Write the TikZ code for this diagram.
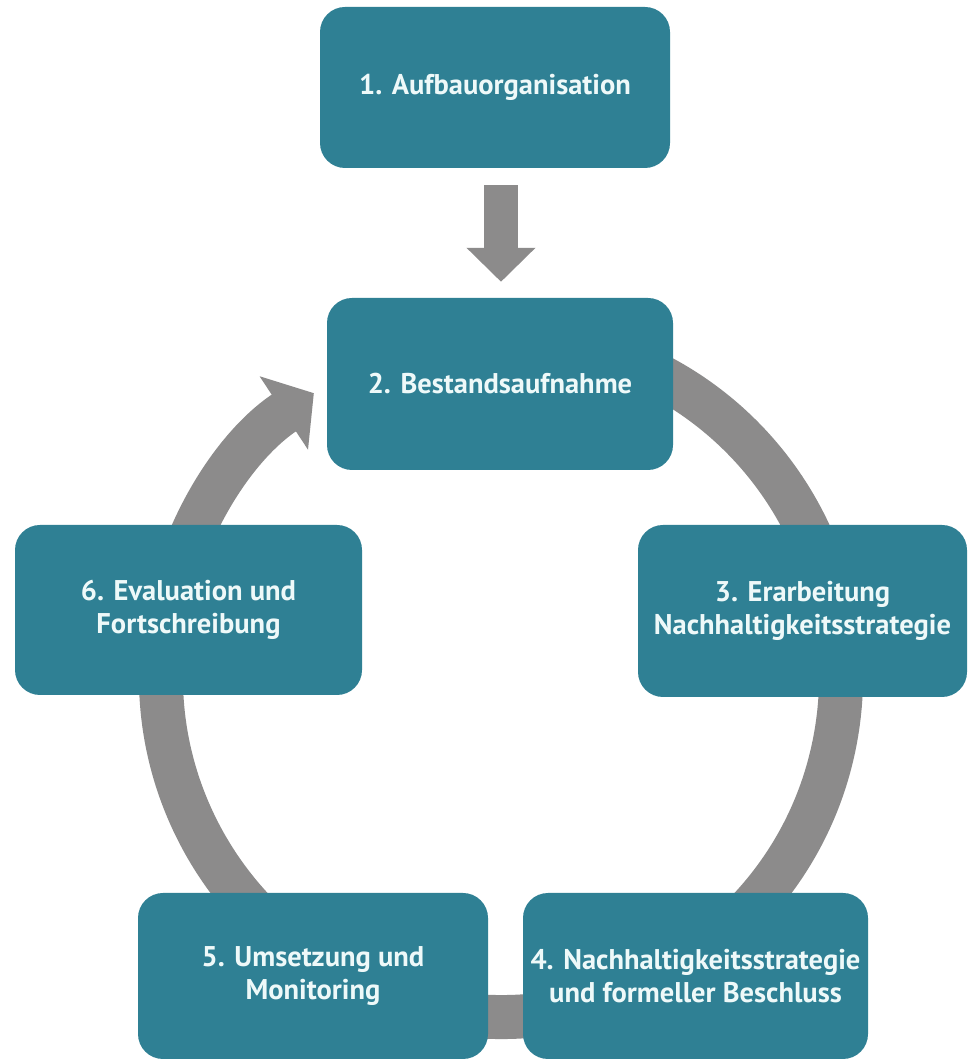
\documentclass[tikz,border=0pt]{standalone}
\usepackage{fontspec}
\setsansfont{PT Sans}
\usetikzlibrary{arrows.meta}
\definecolor{phaseteal}{HTML}{2F8094}
\definecolor{ringgray}{HTML}{8C8B8B}
\definecolor{phasetext}{HTML}{EEF9F9}

\begin{document}
\begin{tikzpicture}[x=1pt, y=1pt,
	phase/.style={fill=phaseteal, rounded corners=25pt, inner sep=0pt, align=center,
		text=phasetext, font=\sffamily\bfseries\fontsize{28.5}{33}\selectfont},
	ringline/.style={draw=ringgray, line width=44pt},
	downarrow/.style={draw=ringgray, line width=34pt, -{Triangle[length=34pt,width=67pt]}}]
	\useasboundingbox[fill=white] (0,0) rectangle (968,1059);
	\coordinate (mid) at (501,382);
	% ring behind the boxes, arrow head before box 2
	\draw[ringline, -{Triangle[length=36pt,width=86pt]}] (mid) ++(80:340) arc[start angle=80, end angle=-236.6, radius=340];
	\node[phase, minimum width=350pt, minimum height=161pt] (auf) at (495,971.5) {1. Aufbauorganisation};
	\node[phase, minimum width=346pt, minimum height=172pt] (best) at (500,675) {2. Bestandsaufnahme};
	\node[phase, minimum width=329pt, minimum height=172pt] (erarb) at (802.5,448) {3. Erarbeitung\\Nachhaltigkeitsstrategie};
	\node[phase, minimum width=345pt, minimum height=166pt] (beschl) at (695.5,83) {4. Nachhaltigkeitsstrategie\\und formeller Beschluss};
	\node[phase, minimum width=350pt, minimum height=166pt] (umsetz) at (313,83) {5. Umsetzung und\\Monitoring};
	\node[phase, minimum width=347pt, minimum height=170pt] (eval) at (188.5,449) {6. Evaluation und\\Fortschreibung};
	\draw[downarrow, shorten <=17pt, shorten >=16pt] (auf.south -| 501,0) -- (best.north -| 501,0);
\end{tikzpicture}
\end{document}
